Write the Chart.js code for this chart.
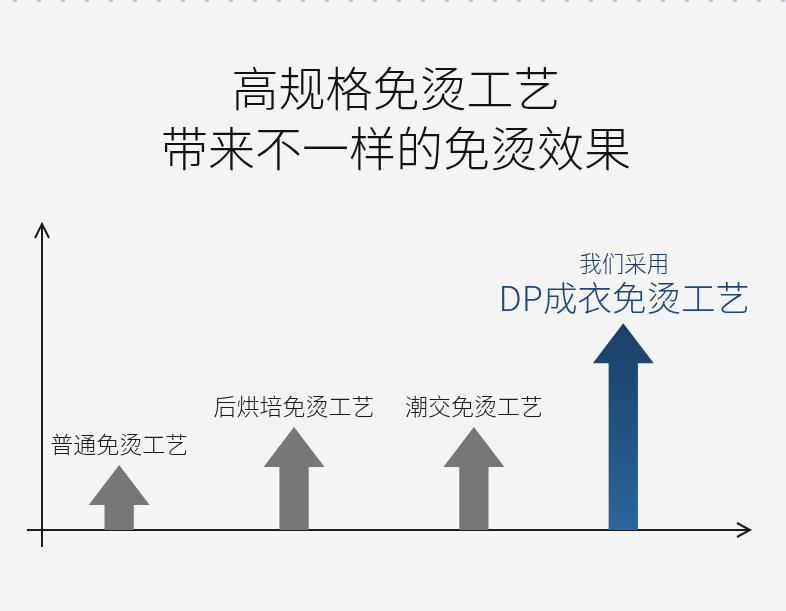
<!DOCTYPE html>
<html>
<head>
<meta charset="utf-8">
<script src="https://cdn.jsdelivr.net/npm/chart.js@4"></script>
<style>
    html, body { margin: 0; padding: 0; background: #f4f4f4; }
    #wrap { width: 786px; height: 611px; }
</style>
</head>
<body>
<div id="wrap"><canvas id="gongyiChart"></canvas></div>
<script>
// 工艺名称 / 位置 / 效果高度
var gongyiLabels = ['普通免烫工艺', '后烘培免烫工艺', '潮交免烫工艺', 'DP成衣免烫工艺'];
var gongyiNotes = ['', '', '', '我们采用'];
var gongyiX = [10.9, 35.6, 61.0, 82.1];
var gongyiValues = [21.5, 34.1, 34.1, 68.5];
var titleLines = ['高规格免烫工艺', '带来不一样的免烫效果'];

var cjkFont = "'Noto Sans CJK SC', 'Noto Sans', sans-serif";

// arrows, axes and labels
var arrowPlugin = {
    id: 'arrowPlugin',
    beforeDraw: function(chart) {
        var ctx = chart.ctx;
        ctx.save();
        // dotted strip at the top
        ctx.strokeStyle = 'rgba(120, 140, 200, 0.45)';
        ctx.lineWidth = 2;
        ctx.setLineDash([4, 20]);
        ctx.lineDashOffset = -13;
        ctx.beginPath();
        ctx.moveTo(0, 1);
        ctx.lineTo(chart.width, 1);
        ctx.stroke();
        ctx.restore();
    },
    afterDatasetsDraw: function(chart) {
        var ctx = chart.ctx;
        var area = chart.chartArea;
        ctx.save();

        // axes
        ctx.strokeStyle = '#1c1c1c';
        ctx.lineWidth = 2;
        ctx.beginPath();
        ctx.moveTo(area.left, area.bottom + 17);
        ctx.lineTo(area.left, area.top - 4);
        ctx.moveTo(area.left - 15, area.bottom);
        ctx.lineTo(area.right, area.bottom);
        ctx.stroke();
        ctx.beginPath();
        ctx.moveTo(area.left - 7, area.top + 10);
        ctx.lineTo(area.left, area.top - 4);
        ctx.lineTo(area.left + 7, area.top + 10);
        ctx.moveTo(area.right - 13, area.bottom - 7);
        ctx.lineTo(area.right, area.bottom);
        ctx.lineTo(area.right - 13, area.bottom + 7);
        ctx.stroke();

        var meta = chart.getDatasetMeta(0);
        meta.data.forEach(function(bar, i) {
            var p = bar.getProps(['x', 'y', 'base', 'width'], true);
            var half = p.width / 2;
            var shaft = p.width * 0.24;
            var headH = 40;
            var last = i === meta.data.length - 1;

            if (last) {
                var grad = ctx.createLinearGradient(0, p.y, 0, p.base);
                grad.addColorStop(0, '#1a3f66');
                grad.addColorStop(1, '#2b659c');
                ctx.fillStyle = grad;
            } else {
                ctx.fillStyle = '#777777';
            }
            ctx.beginPath();
            ctx.moveTo(p.x, p.y);
            ctx.lineTo(p.x + half, p.y + headH);
            ctx.lineTo(p.x + shaft, p.y + headH);
            ctx.lineTo(p.x + shaft, p.base);
            ctx.lineTo(p.x - shaft, p.base);
            ctx.lineTo(p.x - shaft, p.y + headH);
            ctx.lineTo(p.x - half, p.y + headH);
            ctx.closePath();
            ctx.fill();

            ctx.textAlign = 'center';
            ctx.textBaseline = 'middle';
            if (last) {
                ctx.fillStyle = '#1e4775';
                ctx.font = '300 34.5px ' + cjkFont;
                ctx.fillText(gongyiLabels[i], p.x + 1, p.y - 25);
                ctx.fillStyle = '#1c3a5e';
                ctx.font = '300 22.5px ' + cjkFont;
                ctx.fillText(gongyiNotes[i], p.x + 1, p.y - 60);
            } else {
                ctx.fillStyle = '#1a1a1a';
                ctx.font = '300 23px ' + cjkFont;
                ctx.fillText(gongyiLabels[i], p.x, p.y - 21);
            }
        });
        ctx.restore();
    }
};

var ctxGongyi = document.getElementById('gongyiChart').getContext('2d');
var gongyiChart = new Chart(ctxGongyi, {
    type: 'bar',
    data: {
        datasets: [{
            label: '免烫效果',
            data: gongyiX.map(function(x, i) { return { x: x, y: gongyiValues[i] }; }),
            backgroundColor: 'rgba(0, 0, 0, 0)',
            barThickness: 61
        }]
    },
    options: {
        responsive: true,
        maintainAspectRatio: false,
        animation: false,
        layout: {
            padding: { left: 42, right: 36, top: 0, bottom: 81 }
        },
        scales: {
            x: { type: 'linear', min: 0, max: 100, offset: false, display: false },
            y: { min: 0, max: 100, display: false }
        },
        plugins: {
            legend: { display: false },
            tooltip: { enabled: false },
            title: {
                display: true,
                text: titleLines,
                color: '#111111',
                font: { family: cjkFont, size: 47, weight: '300', lineHeight: 1.277 },
                padding: { top: 58, bottom: 50 }
            }
        }
    },
    plugins: [arrowPlugin]
});
</script>
</body>
</html>
